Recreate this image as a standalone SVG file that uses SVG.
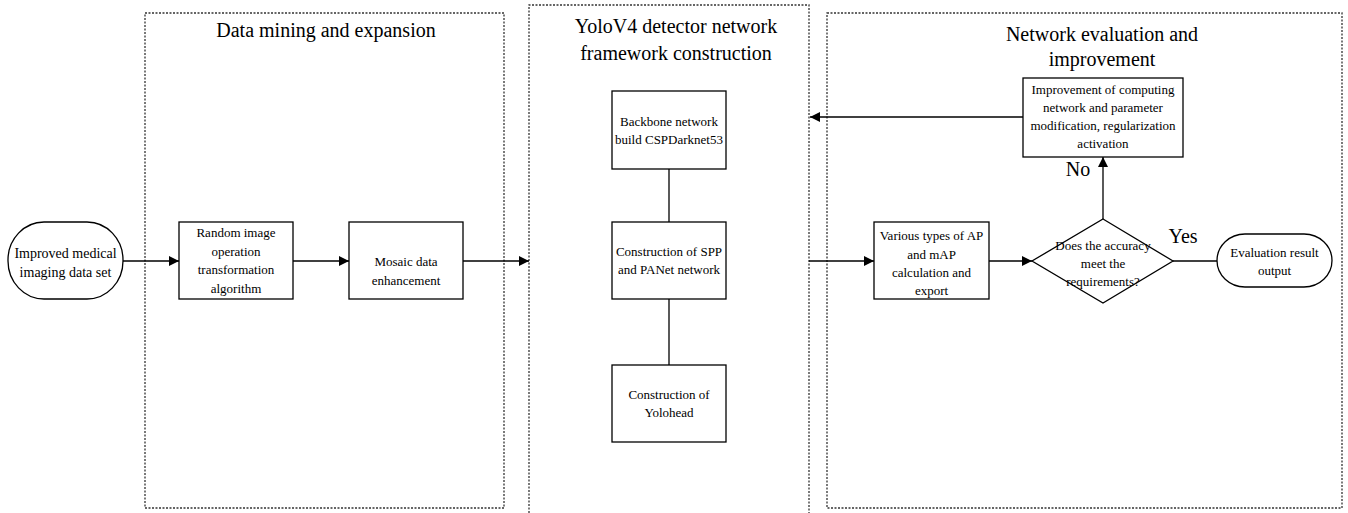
<svg xmlns="http://www.w3.org/2000/svg" width="1348" height="513" viewBox="0 0 1348 513">
<defs>
<style>
.panel{fill:none;stroke:#333;stroke-width:1.3;stroke-dasharray:2 1.5}
.box{fill:#fff;stroke:#000;stroke-width:1.3}
.edge{fill:none;stroke:#000;stroke-width:1.3}
.t{font-family:"Liberation Serif","Times New Roman",serif;font-size:13px;fill:#000;text-anchor:middle}
.t14{font-family:"Liberation Serif","Times New Roman",serif;font-size:14px;fill:#000;text-anchor:middle}
.title{font-family:"Liberation Serif","Times New Roman",serif;font-size:20px;fill:#000;text-anchor:middle}
</style>
<marker id="ah" viewBox="0 0 10 10" refX="10" refY="5" markerWidth="10" markerHeight="10" markerUnits="userSpaceOnUse" orient="auto">
<path d="M0,0 L10,5 L0,10 Z" fill="#000"/>
</marker>
</defs>
<rect width="1348" height="513" fill="#fff"/>

<g id="panel-data">
<rect class="panel" x="145" y="13" width="359" height="495"/>
<text class="title" x="326" y="37">Data mining and expansion</text>
</g>
<g id="panel-yolo">
<path class="panel" d="M529,520 L529,5 L809,5 L809,520"/>
<text class="title" x="676" y="33">YoloV4 detector network</text>
<text class="title" x="676" y="60">framework construction</text>
</g>
<g id="panel-eval">
<rect class="panel" x="827" y="13" width="515" height="495"/>
<text class="title" x="1102" y="41">Network evaluation and</text>
<text class="title" x="1102" y="66">improvement</text>
</g>

<g id="connectors">
<line class="edge" x1="123" y1="261" x2="179" y2="261" marker-end="url(#ah)"/>
<line class="edge" x1="293" y1="261" x2="349" y2="261" marker-end="url(#ah)"/>
<line class="edge" x1="463" y1="261" x2="529" y2="261" marker-end="url(#ah)"/>
<line class="edge" x1="669" y1="169" x2="669" y2="222"/>
<line class="edge" x1="669" y1="299" x2="669" y2="365"/>
<line class="edge" x1="809" y1="261" x2="874" y2="261" marker-end="url(#ah)"/>
<line class="edge" x1="989" y1="261" x2="1032" y2="261" marker-end="url(#ah)"/>
<line class="edge" x1="1103" y1="219" x2="1103" y2="157" marker-end="url(#ah)"/>
<line class="edge" x1="1173" y1="261" x2="1217" y2="261"/>
<line class="edge" x1="1023" y1="117" x2="810" y2="117" marker-end="url(#ah)"/>
<text class="title" x="1078" y="176">No</text>
<text class="title" x="1183" y="243">Yes</text>
</g>

<g id="n-dataset">
<rect class="box" x="8" y="222" width="115" height="77" rx="36" ry="38"/>
<text class="t14" x="65.5" y="258">Improved medical</text>
<text class="t14" x="65.5" y="277">imaging data set</text>
</g>
<g id="n-random">
<rect class="box" x="179" y="222" width="114" height="77"/>
<text class="t" x="236" y="237">Random image</text>
<text class="t" x="236" y="255.5">operation</text>
<text class="t" x="236" y="274">transformation</text>
<text class="t" x="236" y="292.5">algorithm</text>
</g>
<g id="n-mosaic">
<rect class="box" x="349" y="222" width="114" height="77"/>
<text class="t" x="406" y="266">Mosaic data</text>
<text class="t" x="406" y="285">enhancement</text>
</g>
<g id="n-backbone">
<rect class="box" x="612" y="91" width="114" height="78"/>
<text class="t" x="669" y="126">Backbone network</text>
<text class="t" x="669" y="144">build CSPDarknet53</text>
</g>
<g id="n-spp">
<rect class="box" x="612" y="222" width="114" height="77"/>
<text class="t" x="669" y="256">Construction of SPP</text>
<text class="t" x="669" y="274">and PANet network</text>
</g>
<g id="n-yolohead">
<rect class="box" x="612" y="365" width="114" height="77"/>
<text class="t" x="669" y="399">Construction of</text>
<text class="t" x="669" y="417">Yolohead</text>
</g>
<g id="n-ap">
<rect class="box" x="874" y="222" width="115" height="77"/>
<text class="t" x="931.5" y="240">Various types of AP</text>
<text class="t" x="931.5" y="258.5">and mAP</text>
<text class="t" x="931.5" y="277">calculation and</text>
<text class="t" x="931.5" y="295">export</text>
</g>
<g id="n-decision">
<polygon class="box" points="1103,219 1173,261 1103,303 1032,261"/>
<text class="t" x="1103" y="250">Does the accuracy</text>
<text class="t" x="1103" y="268">meet the</text>
<text class="t" x="1103" y="286">requirements?</text>
</g>
<g id="n-improve">
<rect class="box" x="1023" y="78" width="160" height="79"/>
<text class="t" x="1103" y="94">Improvement of computing</text>
<text class="t" x="1103" y="112">network and parameter</text>
<text class="t" x="1103" y="130">modification, regularization</text>
<text class="t" x="1103" y="148">activation</text>
</g>
<g id="n-output">
<rect class="box" x="1217" y="234" width="115" height="53" rx="28" ry="26.5"/>
<text class="t" x="1274.5" y="257">Evaluation result</text>
<text class="t" x="1274.5" y="275">output</text>
</g>
</svg>
